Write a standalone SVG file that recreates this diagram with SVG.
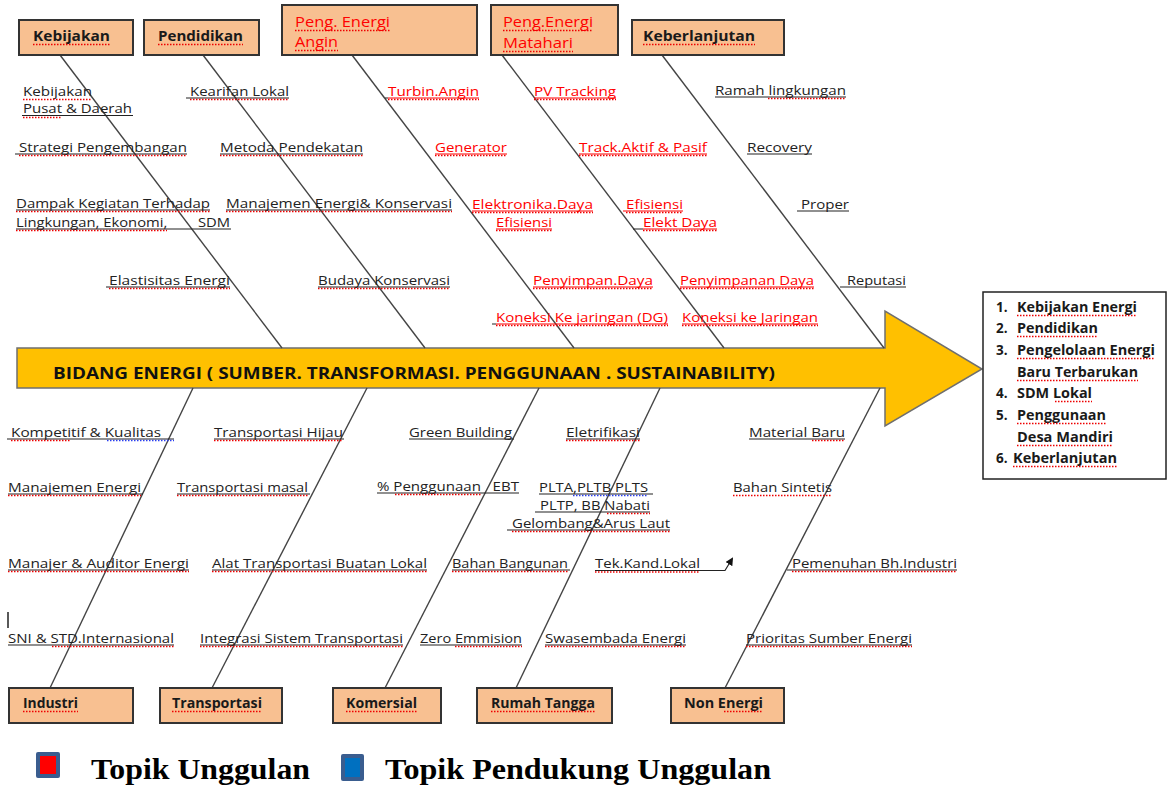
<svg xmlns="http://www.w3.org/2000/svg" width="1167" height="787" viewBox="0 0 1167 787">
<style>
.lb{font-family:"Open Sans","Liberation Sans",sans-serif;font-size:13px;fill:#222}
.rd{fill:#f00}
.b{font-weight:bold;font-size:14px;fill:#1a1a1a}
.bx{fill:#F8C091;stroke:#333;stroke-width:2}
.ul{stroke:#222;stroke-width:1.2;fill:none}
.ulr{stroke:#f00;stroke-width:1.2;fill:none}
.sq{stroke:#e00;stroke-width:1.6;stroke-dasharray:1.5 1.5;fill:none}
.sqb{stroke:#2a3ff0;stroke-width:1.6;stroke-dasharray:1.5 1.5;fill:none}
.cn{stroke:#444;stroke-width:1.4;fill:none}
.lg{font-family:"Liberation Serif","Times New Roman",serif;font-weight:bold;font-size:30px;fill:#000}
</style>
<defs>
<marker id="ah" markerWidth="8" markerHeight="8" refX="6" refY="4" orient="auto" markerUnits="userSpaceOnUse">
<path d="M0,0 L8,4 L0,8 Z" fill="#111"/>
</marker>
</defs>
<rect width="1167" height="787" fill="#fff"/>

<g id="spine">
<path d="M17,348 L885,348 L885,311 L982,369 L885,426 L885,388 L17,388 Z" fill="#FFC000" stroke="#6f6f6f" stroke-width="1.5"/>
<text class="lb" x="53" y="379" style="font-weight:bold;font-size:16px;fill:#111" textLength="722" lengthAdjust="spacingAndGlyphs">BIDANG ENERGI ( SUMBER. TRANSFORMASI. PENGGUNAAN . SUSTAINABILITY)</text>
</g>

<g id="connectors">
<line class="cn" x1="60" y1="55" x2="282" y2="348"/>
<line class="cn" x1="203" y1="55" x2="425" y2="348"/>
<line class="cn" x1="352" y1="55" x2="574" y2="348"/>
<line class="cn" x1="502" y1="55" x2="724" y2="348"/>
<line class="cn" x1="662" y1="55" x2="884" y2="348"/>
<line class="cn" x1="50" y1="688" x2="193" y2="388"/>
<line class="cn" x1="212" y1="688" x2="367" y2="388"/>
<line class="cn" x1="385" y1="688" x2="539" y2="388"/>
<line class="cn" x1="516" y1="688" x2="660" y2="388"/>
<line class="cn" x1="725" y1="688" x2="880" y2="388"/>
<path d="M595,570.5 L725,570.5 L732,559" fill="none" stroke="#222" stroke-width="1.2" marker-end="url(#ah)"/>
<line x1="8" y1="612" x2="8" y2="628" stroke="#222" stroke-width="1.5"/>
</g>

<g id="node-kebijakan">
<rect class="bx" x="19" y="20" width="114" height="35"/>
<text class="lb b" x="33" y="41" textLength="77" lengthAdjust="spacingAndGlyphs">Kebijakan</text>
<line class="sq" x1="33" y1="44.5" x2="110" y2="44.5"/>
</g>
<g id="node-pendidikan">
<rect class="bx" x="144" y="20" width="115" height="35"/>
<text class="lb b" x="158" y="41" textLength="85" lengthAdjust="spacingAndGlyphs">Pendidikan</text>
<line class="sq" x1="158" y1="44.5" x2="243" y2="44.5"/>
</g>
<g id="node-angin">
<rect class="bx" x="282" y="5" width="195" height="50"/>
<text class="lb rd" x="295" y="27" style="font-size:14px" textLength="95" lengthAdjust="spacingAndGlyphs">Peng. Energi</text>
<text class="lb rd" x="295" y="47" style="font-size:14px" textLength="43" lengthAdjust="spacingAndGlyphs">Angin</text>
<path class="sq" d="M295,30.5 H390 M295,50.5 H338"/>
</g>
<g id="node-matahari">
<rect class="bx" x="491" y="5" width="127" height="50"/>
<text class="lb rd" x="503" y="27" style="font-size:14px" textLength="90" lengthAdjust="spacingAndGlyphs">Peng.Energi</text>
<text class="lb rd" x="503" y="48" style="font-size:14px" textLength="70" lengthAdjust="spacingAndGlyphs">Matahari</text>
<path class="sq" d="M503,30.5 H593 M503,51.5 H573"/>
</g>
<g id="node-keberlanjutan">
<rect class="bx" x="632" y="20" width="152" height="35"/>
<text class="lb b" x="643" y="41" textLength="112" lengthAdjust="spacingAndGlyphs">Keberlanjutan</text>
<line class="sq" x1="643" y1="44.5" x2="755" y2="44.5"/>
</g>

<g id="node-industri">
<rect class="bx" x="9" y="688" width="124" height="35"/>
<text class="lb b" x="23" y="708" textLength="55" lengthAdjust="spacingAndGlyphs">Industri</text>
<line class="sq" x1="23" y1="711.5" x2="78" y2="711.5"/>
</g>
<g id="node-transportasi">
<rect class="bx" x="160" y="688" width="122" height="35"/>
<text class="lb b" x="172" y="708" textLength="90" lengthAdjust="spacingAndGlyphs">Transportasi</text>
<line class="sq" x1="172" y1="711.5" x2="262" y2="711.5"/>
</g>
<g id="node-komersial">
<rect class="bx" x="333" y="688" width="108" height="35"/>
<text class="lb b" x="346" y="708" textLength="71" lengthAdjust="spacingAndGlyphs">Komersial</text>
<line class="sq" x1="346" y1="711.5" x2="417" y2="711.5"/>
</g>
<g id="node-rumahtangga">
<rect class="bx" x="477" y="688" width="135" height="35"/>
<text class="lb b" x="491" y="708" textLength="104" lengthAdjust="spacingAndGlyphs">Rumah Tangga</text>
<line class="sq" x1="491" y1="711.5" x2="595" y2="711.5"/>
</g>
<g id="node-nonenergi">
<rect class="bx" x="671" y="688" width="113" height="35"/>
<text class="lb b" x="684" y="708" textLength="79" lengthAdjust="spacingAndGlyphs">Non Energi</text>
<line class="sq" x1="724" y1="711.5" x2="763" y2="711.5"/>
</g>

<g id="node-summary">
<rect x="983" y="292" width="183" height="187" fill="#fff" stroke="#222" stroke-width="1.5"/>
<g class="lb" style="font-weight:bold;font-size:13.5px;fill:#1a1a1a">
<text x="996" y="312">1.</text><text x="1017" y="312" textLength="120" lengthAdjust="spacingAndGlyphs">Kebijakan Energi</text>
<text x="996" y="333">2.</text><text x="1017" y="333" textLength="81" lengthAdjust="spacingAndGlyphs">Pendidikan</text>
<text x="996" y="355">3.</text><text x="1017" y="355" textLength="138" lengthAdjust="spacingAndGlyphs">Pengelolaan Energi</text>
<text x="1017" y="377" textLength="121" lengthAdjust="spacingAndGlyphs">Baru Terbarukan</text>
<text x="996" y="398">4.</text><text x="1017" y="398" textLength="75" lengthAdjust="spacingAndGlyphs">SDM Lokal</text>
<text x="996" y="420">5.</text><text x="1017" y="420" textLength="89" lengthAdjust="spacingAndGlyphs">Penggunaan</text>
<text x="1017" y="442" textLength="96" lengthAdjust="spacingAndGlyphs">Desa Mandiri</text>
<text x="996" y="463">6.</text><text x="1013" y="463" textLength="104" lengthAdjust="spacingAndGlyphs">Keberlanjutan</text>
</g>
<path class="sq" d="M1017,315.5 H1137 M1017,336.5 H1098 M1017,358.5 H1155 M1017,380.5 H1138 M1055,401.5 H1092 M1017,423.5 H1106 M1017,445.5 H1113 M1013,466.5 H1117"/>
</g>

<g id="labels-top">
<text class="lb" x="23" y="95.5" textLength="69" lengthAdjust="spacingAndGlyphs">Kebijakan</text>
<text class="lb" x="23" y="112.5" textLength="109" lengthAdjust="spacingAndGlyphs">Pusat &amp; Daerah</text>
<text class="lb" x="190" y="95.5" textLength="99" lengthAdjust="spacingAndGlyphs">Kearifan Lokal</text>
<text class="lb rd" x="388" y="95.5" textLength="91" lengthAdjust="spacingAndGlyphs">Turbin.Angin</text>
<text class="lb rd" x="534" y="95.5" textLength="82" lengthAdjust="spacingAndGlyphs">PV Tracking</text>
<text class="lb" x="715" y="94.5" textLength="131" lengthAdjust="spacingAndGlyphs">Ramah lingkungan</text>
<text class="lb" x="19" y="151.5" textLength="168" lengthAdjust="spacingAndGlyphs">Strategi Pengembangan</text>
<text class="lb" x="220" y="151.5" textLength="143" lengthAdjust="spacingAndGlyphs">Metoda Pendekatan</text>
<text class="lb rd" x="435" y="151.5" textLength="72" lengthAdjust="spacingAndGlyphs">Generator</text>
<text class="lb rd" x="579" y="151.5" textLength="128" lengthAdjust="spacingAndGlyphs">Track.Aktif &amp; Pasif</text>
<text class="lb" x="747" y="151.5" textLength="65" lengthAdjust="spacingAndGlyphs">Recovery</text>
<text class="lb" x="16" y="207.5" textLength="194" lengthAdjust="spacingAndGlyphs">Dampak Kegiatan Terhadap</text>
<text class="lb" x="16" y="226.5" xml:space="preserve" textLength="214" lengthAdjust="spacingAndGlyphs">Lingkungan, Ekonomi,        SDM</text>
<text class="lb" x="226" y="207.5" textLength="226" lengthAdjust="spacingAndGlyphs">Manajemen Energi&amp; Konservasi</text>
<text class="lb rd" x="472" y="208.5" textLength="121" lengthAdjust="spacingAndGlyphs">Elektronika.Daya</text>
<text class="lb rd" x="496" y="226.5" textLength="56" lengthAdjust="spacingAndGlyphs">Efisiensi</text>
<text class="lb rd" x="626" y="208.5" textLength="57" lengthAdjust="spacingAndGlyphs">Efisiensi</text>
<text class="lb rd" x="643" y="226.5" textLength="74" lengthAdjust="spacingAndGlyphs">Elekt Daya</text>
<text class="lb" x="801" y="208.5" textLength="48" lengthAdjust="spacingAndGlyphs">Proper</text>
<text class="lb" x="109" y="284.5" textLength="121" lengthAdjust="spacingAndGlyphs">Elastisitas Energi</text>
<text class="lb" x="318" y="284.5" textLength="132" lengthAdjust="spacingAndGlyphs">Budaya Konservasi</text>
<text class="lb rd" x="533" y="284.5" textLength="120" lengthAdjust="spacingAndGlyphs">Penyimpan.Daya</text>
<text class="lb rd" x="680" y="284.5" textLength="134" lengthAdjust="spacingAndGlyphs">Penyimpanan Daya</text>
<text class="lb" x="847" y="284.5" textLength="59" lengthAdjust="spacingAndGlyphs">Reputasi</text>
<text class="lb rd" x="496" y="321.5" textLength="172" lengthAdjust="spacingAndGlyphs">Koneksi Ke jaringan (DG)</text>
<text class="lb rd" x="682" y="321.5" textLength="136" lengthAdjust="spacingAndGlyphs">Koneksi ke Jaringan</text>
<path class="ul" d="M22,115.5 H133 M186,98 H289 M385,98 H388 M715,97 H846 M15,154 H187 M220,154 H363 M747,154 H812 M16,210 H210 M16,229 H231 M226,210 H452 M633,229 H643 M797,211 H849 M106,287 H230 M318,287 H450 M840,287 H906 M492,324 H496"/>
<path class="ulr" d="M388,98 H479 M534,98 H616 M435,154 H507 M579,154 H707 M472,211 H593 M496,229 H552 M623,211 H683 M643,229 H717 M533,287 H653 M680,287 H814 M496,324 H668 M682,324 H818"/>
<path class="sq" d="M23,99.5 H92 M23,117.5 H62 M190,99.5 H289 M388,99.5 H479 M534,99.5 H616 M768,98.5 H846 M19,155.5 H187 M220,155.5 H363 M435,155.5 H507 M579,155.5 H707 M16,211.5 H210 M16,230.5 H167 M226,211.5 H452 M472,212.5 H593 M496,230.5 H552 M626,212.5 H683 M643,230.5 H717 M109,288.5 H230 M318,288.5 H450 M533,288.5 H653 M680,288.5 H814 M496,325.5 H668 M682,325.5 H818"/>
</g>

<g id="labels-bottom">
<text class="lb" x="11" y="436.5" textLength="150" lengthAdjust="spacingAndGlyphs">Kompetitif &amp; Kualitas</text>
<text class="lb" x="214" y="436.5" textLength="129" lengthAdjust="spacingAndGlyphs">Transportasi Hijau</text>
<text class="lb" x="409" y="436.5" textLength="103" lengthAdjust="spacingAndGlyphs">Green Building</text>
<text class="lb" x="566" y="436.5" textLength="74" lengthAdjust="spacingAndGlyphs">Eletrifikasi</text>
<text class="lb" x="749" y="436.5" textLength="96" lengthAdjust="spacingAndGlyphs">Material Baru</text>
<text class="lb" x="8" y="491.5" textLength="133" lengthAdjust="spacingAndGlyphs">Manajemen Energi</text>
<text class="lb" x="177" y="491.5" textLength="131" lengthAdjust="spacingAndGlyphs">Transportasi masal</text>
<text class="lb" x="377" y="490.5" xml:space="preserve" textLength="142" lengthAdjust="spacingAndGlyphs">% Penggunaan   EBT</text>
<text class="lb" x="539" y="491.5" xml:space="preserve" textLength="109" lengthAdjust="spacingAndGlyphs">PLTA,PLTB PLTS</text>
<text class="lb" x="540" y="509.5" xml:space="preserve" textLength="110" lengthAdjust="spacingAndGlyphs">PLTP, BB Nabati</text>
<text class="lb" x="512" y="527.5" textLength="158" lengthAdjust="spacingAndGlyphs">Gelombang&amp;Arus Laut</text>
<text class="lb" x="733" y="491.5" textLength="99" lengthAdjust="spacingAndGlyphs">Bahan Sintetis</text>
<text class="lb" x="8" y="567.5" textLength="181" lengthAdjust="spacingAndGlyphs">Manajer &amp; Auditor Energi</text>
<text class="lb" x="212" y="567.5" textLength="215" lengthAdjust="spacingAndGlyphs">Alat Transportasi Buatan Lokal</text>
<text class="lb" x="452" y="567.5" textLength="116" lengthAdjust="spacingAndGlyphs">Bahan Bangunan</text>
<text class="lb" x="595" y="567.5" textLength="105" lengthAdjust="spacingAndGlyphs">Tek.Kand.Lokal</text>
<text class="lb" x="792" y="567.5" textLength="165" lengthAdjust="spacingAndGlyphs">Pemenuhan Bh.Industri</text>
<text class="lb" x="8" y="642.5" textLength="166" lengthAdjust="spacingAndGlyphs">SNI &amp; STD.Internasional</text>
<text class="lb" x="200" y="642.5" textLength="203" lengthAdjust="spacingAndGlyphs">Integrasi Sistem Transportasi</text>
<text class="lb" x="420" y="642.5" textLength="102" lengthAdjust="spacingAndGlyphs">Zero Emmision</text>
<text class="lb" x="545" y="642.5" textLength="141" lengthAdjust="spacingAndGlyphs">Swasembada Energi</text>
<text class="lb" x="746" y="642.5" textLength="166" lengthAdjust="spacingAndGlyphs">Prioritas Sumber Energi</text>
<path class="ul" d="M7,439 H174 M214,439 H344 M409,439 H514 M566,439 H640 M749,439 H845 M8,494 H143 M177,494 H310 M377,493 H519 M539,494 H653 M535,512 H650 M507,530 H670 M8,570 H189 M212,570 H427 M452,570 H570 M787,570 H957 M8,645 H174 M200,645 H403 M420,645 H522 M545,645 H686 M746,645 H912"/>
<path class="sq" d="M11,440.5 H70 M214,440.5 H343 M566,440.5 H640 M812,440.5 H845 M8,495.5 H141 M177,495.5 H308 M395,494.5 H482 M607,513.5 H650 M512,531.5 H670 M733,495.5 H832 M8,571.5 H189 M212,571.5 H427 M452,571.5 H568 M595,572 H700 M792,571.5 H957 M52,646.5 H174 M200,646.5 H403 M455,646.5 H522 M545,646.5 H686 M746,646.5 H912"/>
<path class="sqb" d="M107,440.5 H174 M573,495.5 H648"/>
</g>

<g id="legend">
<rect x="36" y="752" width="24" height="26" rx="2" fill="#3A5D8F"/>
<rect x="40" y="756" width="16" height="18" fill="#FF0000"/>
<text class="lg" x="91" y="779" textLength="219" lengthAdjust="spacingAndGlyphs">Topik Unggulan</text>
<rect x="341" y="754" width="23" height="27" rx="2" fill="#3A5D8F"/>
<rect x="345" y="758" width="15" height="19" fill="#0070C0"/>
<text class="lg" x="385" y="779" textLength="386" lengthAdjust="spacingAndGlyphs">Topik Pendukung Unggulan</text>
</g>
</svg>
